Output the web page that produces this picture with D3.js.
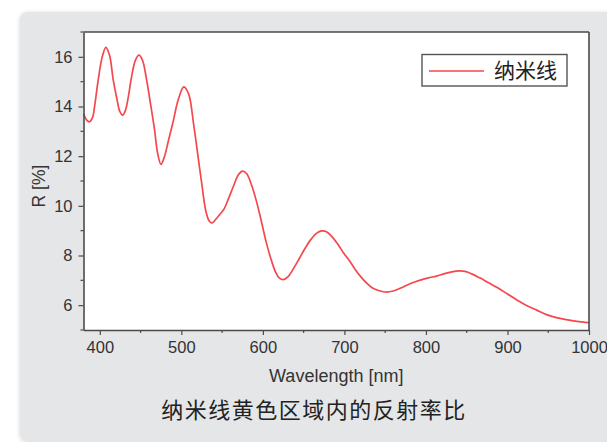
<!DOCTYPE html>
<html><head><meta charset="utf-8">
<script src="https://cdn.jsdelivr.net/npm/d3@7"></script>
<style>
html,body{margin:0;padding:0;background:#fff;}
svg{display:block;}
</style></head>
<body>
<svg id="chart" width="607" height="442"></svg>
<script>
const wavelengths = [380,384,387,391,394,398,403,407.5,412,416.5,421,424.5,428,431.5,435,439,443.5,448,452.5,457,462,467,471,475,479,484,490,496,503,509,515,520,525,530,534,537.5,542,547,552,558,564,570,575,580,586,592,598,604,610,616,620,625,631,638,645,652,659,666,672,678,685,692,699,706,713,720,727,734,741,750,760,770,781,792,803,813,823,832,840,848,857,866,877,888,900,912,924,936,948,960,972,985,1000];
const reflectance = [13.7,13.45,13.38,13.55,14.1,15.06,16.0,16.38,16.05,15.06,14.3,13.8,13.65,13.85,14.39,15.2,15.85,16.07,15.85,15.15,14.15,13.1,12.1,11.67,11.95,12.6,13.4,14.25,14.79,14.5,13.3,12.1,10.9,9.8,9.4,9.31,9.45,9.65,9.85,10.3,10.8,11.25,11.4,11.3,10.85,10.2,9.4,8.55,7.85,7.3,7.1,7.03,7.15,7.5,7.9,8.3,8.65,8.9,8.99,8.96,8.75,8.45,8.1,7.8,7.45,7.15,6.9,6.7,6.6,6.53,6.57,6.7,6.87,7.0,7.1,7.17,7.27,7.34,7.38,7.36,7.25,7.1,6.9,6.7,6.45,6.2,5.98,5.8,5.62,5.5,5.42,5.35,5.3];
const xTicks = [400,500,600,700,800,900,1000];
const xMinorTicks = [450,550,650,750,850,950];
const yTicks = [6,8,10,12,14,16];
const yMinorTicks = [5,7,9,11,13,15,17];
const seriesName = "纳米线";
const xLabel = "Wavelength [nm]";
const yLabel = "R [%]";
const caption = "纳米线黄色区域内的反射率比";

const svg = d3.select("#chart");
const defs = svg.append("defs");
const f = defs.append("filter").attr("id","sh").attr("x","-5%").attr("y","-5%").attr("width","110%").attr("height","110%");
f.append("feDropShadow").attr("dx",0).attr("dy",1).attr("stdDeviation",2).attr("flood-color","#000").attr("flood-opacity",0.18);

svg.append("rect").attr("x",20).attr("y",12).attr("width",620).attr("height",429).attr("rx",7)
  .attr("fill","#e5e6e8").attr("filter","url(#sh)");

const L = 83.5, R = 589, T = 32, B = 330;
const x = d3.scaleLinear().domain([380,1000]).range([L,R]);
const y = d3.scaleLinear().domain([5,17]).range([B,T]);

svg.append("rect").attr("x",L).attr("y",T).attr("width",R-L).attr("height",B-T).attr("fill","#fff");

const lineColor = "#f5474c";
const data = wavelengths.map((w,i)=>({w, r: reflectance[i]}));
const line = d3.line().x(d=>x(d.w)).y(d=>y(d.r)).curve(d3.curveCatmullRom.alpha(0.5));
svg.append("path").datum(data).attr("d",line).attr("fill","none")
  .attr("stroke",lineColor).attr("stroke-width",1.7).attr("stroke-linejoin","round");

const axisColor = "#4a4a4a";
const font = "'Liberation Sans', Arial, sans-serif";

// bottom axis
const xAxis = svg.append("g").attr("transform",`translate(0,${B})`)
  .call(d3.axisBottom(x).tickValues(xTicks).tickSize(5).tickSizeOuter(0).tickPadding(6).tickFormat(d3.format("d")));
xAxis.append("g").selectAll("line").data(xMinorTicks).join("line")
  .attr("x1",d=>x(d)).attr("x2",d=>x(d)).attr("y1",0).attr("y2",3).attr("stroke",axisColor).attr("stroke-width",1.2);
// left axis
const yAxis = svg.append("g").attr("transform",`translate(${L},0)`)
  .call(d3.axisLeft(y).tickValues(yTicks).tickSize(5).tickSizeOuter(0).tickPadding(6));
yAxis.append("g").selectAll("line").data(yMinorTicks).join("line")
  .attr("y1",d=>y(d)).attr("y2",d=>y(d)).attr("x1",0).attr("x2",-3).attr("stroke",axisColor).attr("stroke-width",1.2);

[xAxis,yAxis].forEach(g=>{
  g.selectAll("path").attr("stroke",axisColor).attr("stroke-width",1.6);
  g.selectAll(".tick line").attr("stroke",axisColor).attr("stroke-width",1.2);
  g.selectAll("text").attr("font-family",font).attr("font-size",16.5).attr("fill","#333");
});
// top & right frame
svg.append("line").attr("x1",L).attr("x2",R).attr("y1",T).attr("y2",T).attr("stroke",axisColor).attr("stroke-width",1.6);
svg.append("line").attr("x1",R).attr("x2",R).attr("y1",T).attr("y2",B).attr("stroke",axisColor).attr("stroke-width",1.6);

svg.append("text").attr("x",(L+R)/2).attr("y",382).attr("text-anchor","middle")
  .attr("font-family",font).attr("font-size",18).attr("fill","#333").text(xLabel);
svg.append("text").attr("transform",`translate(45,${(T+B)/2+5}) rotate(-90)`).attr("text-anchor","middle")
  .attr("font-family",font).attr("font-size",17.5).attr("fill","#333").text(yLabel);

svg.append("text").attr("x",314).attr("y",418).attr("text-anchor","middle")
  .attr("font-family","'Noto Sans CJK SC', sans-serif").attr("font-size",22).attr("letter-spacing",1.5).attr("fill","#222").text(caption);

// legend
const lg = svg.append("g");
lg.append("rect").attr("x",422).attr("y",54.5).attr("width",145).attr("height",31.5)
  .attr("fill","#fff").attr("stroke","#555").attr("stroke-width",1.4);
lg.append("line").attr("x1",429).attr("x2",484).attr("y1",71).attr("y2",71).attr("stroke",lineColor).attr("stroke-width",1.7);
lg.append("text").attr("x",494).attr("y",78).attr("font-family","'Noto Sans CJK SC', sans-serif")
  .attr("font-size",21).attr("fill","#222").text(seriesName);
</script>
</body></html>
